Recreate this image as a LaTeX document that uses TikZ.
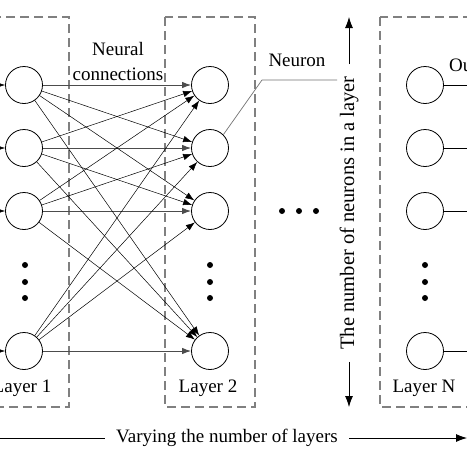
\documentclass[tikz,border=0pt]{standalone}
\usepackage{fontspec}
\setmainfont{Liberation Serif}
\usetikzlibrary{arrows.meta}

\tikzset{
    neuron/.style={draw, circle, minimum size=37pt, inner sep=0pt, line width=0.8pt},
    layerbox/.style={draw=gray, dash pattern=on 9pt off 5pt, line width=1.2pt},
    blob/.style={fill, circle, inner sep=0pt, minimum size=6pt},
    link/.style={-{Latex[length=9pt,width=6.5pt]}, line width=0.5pt},
    hlink/.style={-{Latex[length=9pt,width=6.5pt]}, line width=1pt, draw=black!70},
    bigarrow/.style={-{Latex[length=11pt,width=8pt]}, line width=0.8pt},
    txt/.style={font=\fontsize{19}{25}\selectfont, inner sep=1pt},
}

\begin{document}
\begin{tikzpicture}[x=1pt, y=-1pt]
    \useasboundingbox (0,0) rectangle (467,467);
    \clip (0,0) rectangle (467,467);
    \fill[white] (0,0) rectangle (467,467);

    % layer frames
    \draw[layerbox] (-21,17) rectangle (69,407);
    \draw[layerbox] (165,17) rectangle (255,407);
    \draw[layerbox] (380,17) rectangle (470,407);

    % layer 1
    \node (a1) [neuron] at (24,85) {};
    \node (a2) [neuron] at (24,148) {};
    \node (a3) [neuron] at (24,211) {};
    \node (a4) [neuron] at (24,351) {};

    % layer 2
    \node (b1) [neuron] at (210,85) {};
    \node (b2) [neuron] at (210,148) {};
    \node (b3) [neuron] at (210,211) {};
    \node (b4) [neuron] at (210,351) {};

    % layer N
    \node (c1) [neuron] at (425,85) {};
    \node (c2) [neuron] at (425,148) {};
    \node (c3) [neuron] at (425,211) {};
    \node (c4) [neuron] at (425,351) {};

    \foreach \x in {25,210,425}
        \foreach \y in {265,282,298}
            \node [blob] at (\x,\y) {};
    \foreach \x in {282,299,316}
        \node [blob] at (\x,211) {};

    % inputs
    \coordinate (i1) at (-20,85);
    \coordinate (i2) at (-20,148);
    \coordinate (i3) at (-20,211);
    \coordinate (i4) at (-20,351);
    \draw[link] (i1) -- (a1);
    \draw[link] (i2) -- (a2);
    \draw[link] (i3) -- (a3);
    \draw[link] (i4) -- (a4);

    % neural connections
    \draw[hlink] (a1) -- (b1);
    \draw[hlink] (a2) -- (b2);
    \draw[hlink] (a3) -- (b3);
    \draw[hlink] (a4) -- (b4);
    \draw[link] (a1) -- (b2);
    \draw[link] (a1) -- (b3);
    \draw[link] (a1) -- (b4);
    \draw[link] (a2) -- (b1);
    \draw[link] (a2) -- (b3);
    \draw[link] (a2) -- (b4);
    \draw[link] (a3) -- (b1);
    \draw[link] (a3) -- (b2);
    \draw[link] (a3) -- (b4);
    \draw[link] (a4) -- (b1);
    \draw[link] (a4) -- (b2);
    \draw[link] (a4) -- (b3);

    % outputs
    \coordinate (o1) at (480,85);
    \coordinate (o2) at (480,148);
    \coordinate (o3) at (480,211);
    \coordinate (o4) at (480,351);
    \draw[line width=0.8pt] (c1.east) -- (o1);
    \draw[line width=0.8pt] (c2.east) -- (o2);
    \draw[line width=0.8pt] (c3.east) -- (o3);
    \draw[line width=0.8pt] (c4.east) -- (o4);

    \node (conn) [txt, fill=white, align=center] at (118,61) {Neural\\connections};
    \node (outlbl) [txt, anchor=west] at (448,67) {Output};

    % neuron callout
    \node (neulbl) [txt] at (297,60) {Neuron};
    \coordinate (bend) at (262,80);
    \coordinate (tail) at (337,80);
    \draw[draw=black!55, line width=0.7pt] (b2.45) -- (bend) -- (tail);

    % layer names
    \node (lay1) [txt] at (22,388) {Layer 1};
    \node (lay2) [txt] at (208,388) {Layer 2};
    \node (layn) [txt] at (424,388) {Layer N};

    % neurons per layer
    \node (vtext) [txt, rotate=90, font=\fontsize{20.5}{24}\selectfont, inner xsep=12pt] at (349,213) {The number of neurons in a layer};
    \coordinate (vtop) at (349,17);
    \coordinate (vbot) at (349,407);
    \draw[bigarrow] (vtext.east) -- (vtop);
    \draw[bigarrow] (vtext.west) -- (vbot);

    % number of layers
    \node (htext) [txt, inner xsep=11pt] at (227,438) {Varying the number of layers};
    \coordinate (hleft) at (-5,438);
    \coordinate (hright) at (467,438);
    \draw[line width=0.8pt] (hleft) -- (htext.west);
    \draw[bigarrow] (htext.east) -- (hright);
\end{tikzpicture}
\end{document}
